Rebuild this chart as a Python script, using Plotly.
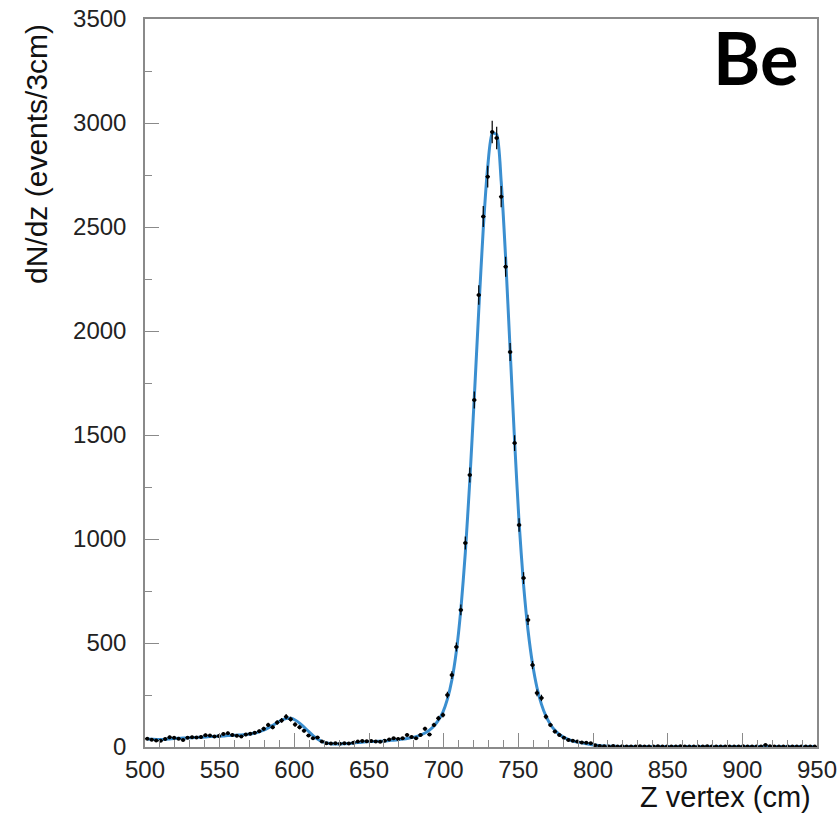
import numpy as np
import plotly.graph_objects as go

# Z-vertex histogram: 3 cm bins from 500 to 950 cm
bin_lo, bin_width, n_bins = 500.0, 3.0, 150
z_centers = bin_lo + bin_width * (np.arange(n_bins) + 0.5)

counts = [
    40, 35, 31, 30, 38, 47, 44, 40, 34, 45,
    47, 46, 48, 57, 55, 50, 53, 62, 66, 58,
    54, 51, 60, 64, 69, 76, 88, 106, 95, 118,
    128, 146, 134, 108, 95, 78, 55, 42, 46, 26,
    18, 17, 18, 16, 18, 17, 20, 26, 29, 28,
    29, 27, 25, 30, 36, 42, 39, 42, 58, 48,
    42, 58, 88, 60, 106, 138, 154, 250, 346, 481,
    659, 981, 1308, 1668, 2173, 2550, 2742, 2957, 2928, 2646,
    2309, 1899, 1461, 1067, 812, 611, 394, 260, 236, 146,
    106, 74, 58, 45, 34, 30, 26, 22, 21, 18,
    9, 5, 4, 3, 5, 2, 4, 3, 3, 2,
    4, 3, 2, 3, 4, 2, 3, 3, 2, 4,
    3, 2, 3, 2, 3, 4, 2, 3, 2, 3,
    3, 2, 3, 4, 2, 3, 2, 3, 10, 4,
    3, 2, 3, 2, 3, 2, 3, 2, 3, 2,
]

fit_curve = [
    38, 37, 36, 36, 37, 39, 41, 42, 43, 44,
    45, 46, 47, 48, 50, 51, 52, 53, 55, 56,
    57, 58, 60, 63, 67, 73, 81, 92, 104, 117,
    129, 137, 138, 130, 115, 96, 75, 55, 38, 26,
    19, 16, 15, 15, 16, 17, 19, 21, 23, 25,
    26, 27, 28, 29, 31, 33, 35, 38, 41, 45,
    50, 57, 67, 81, 101, 129, 168, 230, 322, 460,
    660, 935, 1280, 1680, 2100, 2490, 2790, 2950, 2945, 2720,
    2350, 1910, 1470, 1080, 780, 560, 400, 285, 205, 148,
    108, 80, 60, 46, 36, 29, 24, 20, 16, 12,
    9, 6, 5, 4, 4, 3, 3, 3, 3, 3,
    3, 3, 3, 3, 3, 3, 3, 3, 3, 3,
    3, 3, 3, 3, 3, 3, 3, 3, 3, 3,
    3, 3, 3, 3, 3, 3, 3, 3, 3, 3,
    3, 3, 3, 3, 3, 3, 3, 3, 3, 3,
]

x_tick_vals = [500, 550, 600, 650, 700, 750, 800, 850, 900, 950]
y_tick_vals = [0, 500, 1000, 1500, 2000, 2500, 3000, 3500]

counts_arr = np.array(counts, dtype=float)
stat_err = np.sqrt(counts_arr)

FONT = "Liberation Sans, Arial, Helvetica, sans-serif"
W, H = 839, 813
L, R, T, B = 145, 22, 19, 66
plot_w = W - L - R
plot_h = H - T - B

fig = go.Figure()

fig.add_trace(go.Scatter(
    x=z_centers, y=fit_curve, mode="lines",
    line=dict(color="#3b8fd0", width=3, shape="spline", smoothing=0.6),
    hoverinfo="skip", showlegend=False,
))

fig.add_trace(go.Scatter(
    x=z_centers, y=counts_arr, mode="markers",
    marker=dict(color="black", size=4),
    error_y=dict(type="data", array=stat_err, color="black", thickness=1.2, width=0),
    error_x=dict(type="constant", value=bin_width / 2, color="black", thickness=1.2, width=0),
    showlegend=False,
))

axis_common = dict(
    showline=True, linecolor="#8a8a8a", linewidth=1.5, mirror=True,
    ticks="inside", tickcolor="#8a8a8a", tickwidth=1,
    showgrid=False, zeroline=False, automargin=False,
    tickfont=dict(family=FONT, size=24, color="#222222"),
)

fig.update_xaxes(
    range=[500, 950], tickvals=x_tick_vals, ticklen=14,
    minor=dict(ticks="inside", dtick=10, ticklen=7, tickcolor="#8a8a8a", showgrid=False),
    **axis_common,
)
fig.update_yaxes(
    range=[0, 3500], tickvals=y_tick_vals, ticklen=14,
    minor=dict(ticks="inside", dtick=250, ticklen=7, tickcolor="#8a8a8a", showgrid=False),
    ticklabelstandoff=12,
    **axis_common,
)

fig.add_annotation(
    text="dN/dz (events/3cm)", textangle=-90,
    xref="paper", yref="paper", x=(36 - L) / plot_w, y=1 - 3 / plot_h,
    xanchor="center", yanchor="top", showarrow=False,
    font=dict(family=FONT, size=30, color="#111111"),
)
fig.add_annotation(
    text="Z vertex (cm)",
    xref="paper", yref="paper", x=(813 - L) / plot_w, y=-(797 - (H - B)) / plot_h,
    xanchor="right", yanchor="middle", showarrow=False,
    font=dict(family=FONT, size=29, color="#111111"),
)
fig.add_annotation(
    text="<b>Be</b>",
    xref="paper", yref="paper", x=(755 - L) / plot_w, y=(H - B - 57) / plot_h,
    xanchor="center", yanchor="middle", showarrow=False,
    font=dict(family="Lato, sans-serif", size=72, color="black"),
)

fig.update_layout(
    width=W, height=H,
    margin=dict(l=L, r=R, t=T, b=B),
    paper_bgcolor="white", plot_bgcolor="white",
)

fig.write_html("out.html")
